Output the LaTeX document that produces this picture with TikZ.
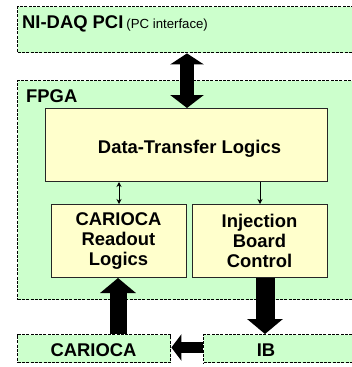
\documentclass[tikz,border=0pt]{standalone}
\usepackage{fontspec}
\setmainfont{Liberation Sans}
\usetikzlibrary{arrows.meta,positioning}
\definecolor{boxgreen}{HTML}{CCFFCC}
\definecolor{boxyellow}{HTML}{FFFFCC}
\begin{document}
\begin{tikzpicture}[x=1pt,y=-1pt,
  outer/.style={draw=black,fill=boxgreen,line width=1.4pt,dash pattern=on 3pt off 1.3pt,
    rectangle,inner sep=0pt,anchor=north west},
  inner/.style={draw=black!85,fill=boxyellow,line width=1pt,rectangle,inner sep=0pt,anchor=north west},
  lbl/.style={font=\fontsize{18.4}{20}\selectfont\bfseries,align=center,inner sep=0pt},
  thin/.style={line width=1pt},
]
\useasboundingbox (0,0) rectangle (352,367);
\clip (0,0) rectangle (352,367);
% outer boxes
\node[outer,minimum width=343pt,minimum height=46pt] (nidaq) at (17,6) {};
\node[outer,minimum width=343pt,minimum height=219pt] (fpga) at (17,80) {};
\node[outer,minimum width=153pt,minimum height=28pt] (car) at (17,334) {};
\node[outer,minimum width=157pt,minimum height=28pt] (ib) at (203,334) {};
% inner boxes
\node[inner,minimum width=282pt,minimum height=73pt] (dtl) at (45,108) {};
\node[inner,minimum width=135pt,minimum height=73pt] (crl) at (51,204) {};
\node[inner,minimum width=135pt,minimum height=73pt] (ibc) at (192,204) {};
% labels
\node[lbl,anchor=base west] (tnidaq) at (22,28) {NI-DAQ PCI\,\fontsize{13.2}{14}\selectfont\mdseries(PC interface)};
\node[lbl,anchor=base west] (tfpga) at (26,102) {FPGA};
\node[lbl,anchor=base] (tdtl) at (189.5,153) {Data-Transfer Logics};
\node[lbl,anchor=center] (tcrl) at (118.5,241) {CARIOCA\\Readout\\Logics};
\node[lbl,anchor=center] (tibc) at (259.5,241) {Injection\\Board\\Control};
\node[lbl,anchor=base] (tcar) at (93.5,356) {CARIOCA};
\node[lbl,anchor=base] (tib) at (266,356) {IB};
% coordinates for arrow columns
\coordinate (xa) at (187,0);
\coordinate (xb) at (119,0);
\coordinate (xc) at (260,0);
\coordinate (xd) at (118,0);
\coordinate (xe) at (265,0);
\coordinate (ya) at (0,347.5);
% big arrows
\draw[line width=14pt,{Triangle[width=33pt,length=11pt]}-{Triangle[width=33pt,length=13pt]}]
  (nidaq.south -| xa) -- (dtl.north -| xa);
\draw[line width=17pt,-{Triangle[width=35pt,length=15pt]}]
  (car.north -| xd) -- (crl.south -| xd);
\draw[line width=19pt,-{Triangle[width=35pt,length=15pt]}]
  (ibc.south -| xe) -- (ib.north -| xe);
\draw[line width=11.5pt,-{Triangle[width=26pt,length=10pt]}]
  (ib.west |- ya) -- (car.east |- ya);
% small arrows
\draw[thin,{Stealth[width=5pt,length=5pt]}-{Stealth[width=5pt,length=5pt]}]
  (dtl.south -| xb) -- (crl.north -| xb);
\draw[thin,-{Stealth[width=5pt,length=5pt]}]
  (dtl.south -| xc) -- (ibc.north -| xc);
\end{tikzpicture}
\end{document}
